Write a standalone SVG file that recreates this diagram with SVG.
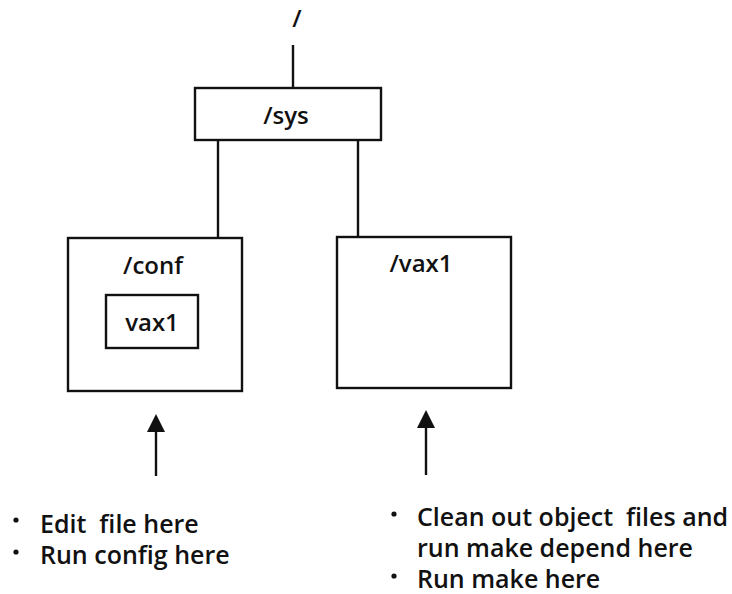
<svg xmlns="http://www.w3.org/2000/svg" width="732" height="594" viewBox="0 0 732 594">
<style>
  .box { fill: #ffffff; stroke: #111111; stroke-width: 2.4; }
  .ln { stroke: #111111; stroke-width: 2.4; fill: none; }
  .lbl { font-family: "Open Sans", "Noto Sans", "Liberation Sans", sans-serif; font-size: 24px; font-weight: 600; fill: #111111; }
  .note { font-family: "Open Sans", "Noto Sans", "Liberation Sans", sans-serif; font-size: 25px; font-weight: 600; fill: #111111; }
  .dot { fill: #111111; }
</style>
<rect width="732" height="594" fill="#ffffff"/>

<g id="root">
  <text class="lbl" x="297" y="27" text-anchor="middle">/</text>
</g>

<g id="connectors">
  <line class="ln" x1="293" y1="45" x2="293" y2="88"/>
  <line class="ln" x1="218" y1="140" x2="218" y2="238"/>
  <line class="ln" x1="358" y1="140" x2="358" y2="237"/>
  <line class="ln" x1="156" y1="476" x2="156" y2="430"/>
  <path d="M156,414 L147,432 L165,432 Z" fill="#111111"/>
  <line class="ln" x1="426" y1="475" x2="426" y2="426"/>
  <path d="M426,410 L417,428 L435,428 Z" fill="#111111"/>
</g>

<g id="sys">
  <rect class="box" x="195" y="88" width="186" height="52"/>
  <text class="lbl" x="286" y="124" text-anchor="middle">/sys</text>
</g>

<g id="conf">
  <rect class="box" x="68" y="238" width="174" height="153"/>
  <text class="lbl" x="153" y="274" text-anchor="middle">/conf</text>
</g>

<g id="conf-vax1">
  <rect class="box" x="106" y="295" width="92" height="53"/>
  <text class="lbl" x="152" y="331" text-anchor="middle">vax1</text>
</g>

<g id="vax1">
  <rect class="box" x="337" y="237" width="174" height="151"/>
  <text class="lbl" x="421" y="272" text-anchor="middle">/vax1</text>
</g>

<g id="notes-left">
  <circle class="dot" cx="16" cy="520" r="2.6"/>
  <text class="note" x="40" y="533" xml:space="preserve">Edit  file here</text>
  <circle class="dot" cx="16" cy="552" r="2.6"/>
  <text class="note" x="40" y="564">Run config here</text>
</g>

<g id="notes-right">
  <circle class="dot" cx="394" cy="514" r="2.6"/>
  <text class="note" x="417" y="526" xml:space="preserve">Clean out object  files and</text>
  <text class="note" x="417" y="557">run make depend here</text>
  <circle class="dot" cx="394" cy="576" r="2.6"/>
  <text class="note" x="417" y="588">Run make here</text>
</g>
</svg>
